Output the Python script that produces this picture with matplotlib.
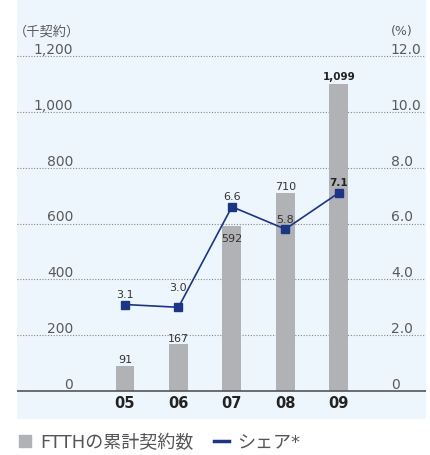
import matplotlib
matplotlib.use('Agg')
import matplotlib.pyplot as plt
from matplotlib.lines import Line2D

plt.rcParams['font.family'] = ['DejaVu Sans', 'Noto Sans CJK JP']

# データ
years = ['05', '06', '07', '08', '09']
subscribers = [91, 167, 592, 710, 1099]          # 千契約
share = [3.1, 3.0, 6.6, 5.8, 7.1]                 # %
left_ticks = [0, 200, 400, 600, 800, 1000, 1200]
left_labels = ['0', '200', '400', '600', '800', '1,000', '1,200']
right_labels = ['0', '2.0', '4.0', '6.0', '8.0', '10.0', '12.0']
bar_labels = ['91', '167', '592', '710', '1,099']
share_labels = ['3.1', '3.0', '6.6', '5.8', '7.1']

bg = '#eef6fd'
bar_color = '#b1b2b5'
navy = '#1c3584'
tick_color = '#5a5a5a'
label_color = '#333333'

fig = plt.figure(figsize=(4.31, 4.56), dpi=100)
ax = fig.add_axes([17 / 431, 36 / 456, 409 / 431, 420 / 456])
ax.set_facecolor(bg)
ax.set_xlim(-2.02, 5.63)
ax.set_ylim(-100, 1404)
for s in ax.spines.values():
    s.set_visible(False)
ax.set_xticks([])
ax.set_yticks([])

x = list(range(len(years)))

# グリッド線と目盛ラベル
for v, ll, rl in zip(left_ticks, left_labels, right_labels):
    if v > 0:
        ax.plot([-2.02, 5.59], [v, v], color='#8a8a8a', lw=0.8, ls=(0, (1, 1.5)), zorder=1)
    ax.text(-0.97, v + 11, ll, ha='right', va='baseline', fontsize=10, color=tick_color)
    ax.text(4.972, v + 11, rl, ha='left', va='baseline', fontsize=10, color=tick_color)

ax.axhline(0, color='#555555', lw=1.2, zorder=3)

# 棒グラフ
ax.bar(x, subscribers, width=0.355, color=bar_color, zorder=2)

# シェアの折れ線（右軸 12.0 = 左軸 1,200）
share_scaled = [s * 100 for s in share]
ax.plot(x, share_scaled, color=navy, lw=1.2, marker='s', markersize=6, zorder=4)

# 棒の値ラベル
for i, (v, lab) in enumerate(zip(subscribers, bar_labels)):
    if i == 2:
        ax.text(i, v - 54, lab, ha='center', va='baseline', fontsize=8, color=label_color, zorder=5)
    elif i == 4:
        ax.text(i, v + 18, lab, ha='center', va='baseline', fontsize=7.5, fontweight='bold',
                color='#222222', zorder=5)
    else:
        ax.text(i, v + 12, lab, ha='center', va='baseline', fontsize=8, color=label_color, zorder=5)

# シェアの値ラベル
for i, (v, lab) in enumerate(zip(share_scaled, share_labels)):
    off = 61 if i == 1 else 27
    ax.text(i, v + off, lab, ha='center', va='baseline', fontsize=8 if i < 4 else 7.5,
            fontweight='bold' if i == 4 else 'normal',
            color='#222222' if i == 4 else label_color, zorder=5)

# 年ラベル
for i, y in enumerate(years):
    ax.text(i, -40, y, ha='center', va='center', fontsize=10.5, fontweight='bold', color='#222222')

# 単位
ax.text(-2.08, 1290, '（千契約）', ha='left', va='center', fontsize=9.5, color=tick_color)
ax.text(4.972, 1290, '(%)', ha='left', va='center', fontsize=9, color=tick_color)

# 凡例
handles = [Line2D([], [], marker='s', ls='none', color=bar_color, markersize=8.5),
           Line2D([], [], color=navy, lw=2.5)]
fig.legend(handles, ['FTTHの累計契約数', 'シェア*'], loc='center left',
           bbox_to_anchor=(17 / 431, 1 - 443 / 456), ncol=2, frameon=False,
           fontsize=13, handlelength=0.85, handletextpad=0.45, columnspacing=1.1,
           borderpad=0, borderaxespad=0, labelcolor='#555555')

fig.savefig('out.png', dpi=100)
